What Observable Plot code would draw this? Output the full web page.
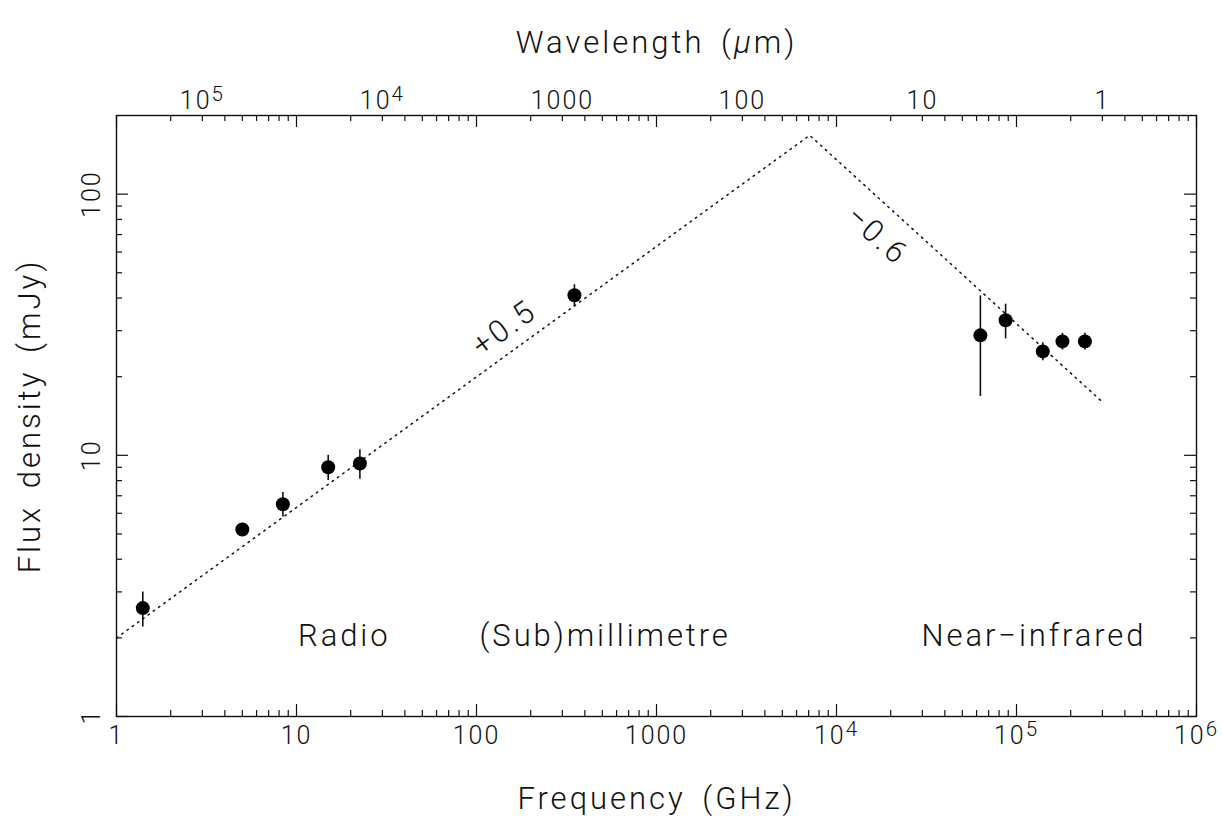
<!DOCTYPE html>
<html>
<head>
<meta charset="utf-8">
<script src="https://cdn.jsdelivr.net/npm/d3@7"></script>
<script src="https://cdn.jsdelivr.net/npm/@observablehq/plot@0.6"></script>
<style>
  html, body { margin: 0; padding: 0; background: #fff; }
  #chart svg { display: block; }
  .ls-tick text { letter-spacing: 2px; }
  .ls-title text { letter-spacing: 3px; word-spacing: 6px; }
  .ls-label text { letter-spacing: 2.9px; word-spacing: 4px; }
</style>
</head>
<body>
<div id="chart"></div>
<script>
// ---- Data ----
const freqGHz   = [1.4, 5.0, 8.4, 15, 22.5, 350, 6.3e4, 8.7e4, 1.4e5, 1.8e5, 2.4e5];
const fluxMJy   = [2.6, 5.2, 6.5, 9.0, 9.3, 41, 28.8, 32.9, 25.0, 27.3, 27.3];
const fluxErr   = [0.4, 0.25, 0.7, 1.0, 1.2, 4, 12, 5, 2, 2, 2];

// broken power-law (dotted) vertices
const modelFreq = [1, 7100, 3e5];
const modelFlux = [2.0, 168, 16];

// tick values / labels
const xMajor = [1, 10, 100, 1000, 1e4, 1e5, 1e6];
const xMajorLabels = ["1", "10", "100", "1000", "10^4", "10^5", "10^6"];
const yMajor = [1, 10, 100];
const yMajorLabels = ["1", "10", "100"];
const lambdaUm = [1e5, 1e4, 1000, 100, 10, 1];
const lambdaLabels = ["10^5", "10^4", "1000", "100", "10", "1"];
const C_UM_GHZ = 3e5; // lambda(um) = 3e5 / nu(GHz)

// annotations
const regionText = ["Radio", "(Sub)millimetre", "Near\u2212infrared"];
const regionFreq = [10.2, 104, 2.97e4];
const regionFlux = [2.04, 2.04, 2.04];

const slopeText = ["+0.5", "\u22120.6"];
const slopeFreq = [143, 1.68e4];
const slopeFlux = [30.7, 69.3];
const slopeAngle = [-36, 42];

// ---- derived tables ----
const points = freqGHz.map((nu, i) => ({nu, flux: fluxMJy[i], err: fluxErr[i]}));
const model = modelFreq.map((nu, i) => ({nu, flux: modelFlux[i]}));
const xMinor = [];
for (let k = 0; k < 6; k++) for (let m = 2; m <= 9; m++) xMinor.push(m * 10 ** k);
const yMinor = [];
for (let k = 0; k < 2; k++) for (let m = 2; m <= 9; m++) yMinor.push(m * 10 ** k);

const W = 1223, H = 836;
const mL = 116, mR = 27, mT = 115, mB = 120;
const fw = W - mL - mR, fh = H - mT - mB;
const FONT = "Roboto, Lato, 'Liberation Sans', sans-serif";
const INK = "#111";

const plot = Plot.plot({
  width: W, height: H,
  marginLeft: mL, marginRight: mR, marginTop: mT, marginBottom: mB,
  style: {fontFamily: FONT, fontWeight: 300, background: "#fff", color: INK},
  x: {type: "log", domain: [1, 1e6], axis: null},
  y: {type: "log", domain: [1, 200], axis: null},
  marks: [
    // ticks, all inward, bottom + top (mirrored) and left + right
    Plot.tickX(xMajor, {x: d => d, insetTop: fh - 12, stroke: INK, strokeWidth: 1.2}),
    Plot.tickX(xMinor, {x: d => d, insetTop: fh - 6, stroke: INK, strokeWidth: 1.2}),
    Plot.tickX(xMajor, {x: d => d, insetBottom: fh - 12, stroke: INK, strokeWidth: 1.2}),
    Plot.tickX(xMinor, {x: d => d, insetBottom: fh - 6, stroke: INK, strokeWidth: 1.2}),
    Plot.tickY(yMajor, {y: d => d, insetRight: fw - 12, stroke: INK, strokeWidth: 1.2}),
    Plot.tickY(yMinor, {y: d => d, insetRight: fw - 6, stroke: INK, strokeWidth: 1.2}),
    Plot.tickY(yMajor, {y: d => d, insetLeft: fw - 12, stroke: INK, strokeWidth: 1.2}),
    Plot.tickY(yMinor, {y: d => d, insetLeft: fw - 6, stroke: INK, strokeWidth: 1.2}),
    Plot.frame({stroke: INK, strokeWidth: 1.4}),

    // tick labels
    Plot.text(xMajor, {x: d => d, text: (d, i) => xMajorLabels[i], frameAnchor: "bottom", dy: 27, textAnchor: "middle", fontSize: 25, fill: INK, className: "ls-tick"}),
    Plot.text(yMajor, {y: d => d, text: (d, i) => yMajorLabels[i], frameAnchor: "left", dx: -25, rotate: -90, textAnchor: "middle", fontSize: 25, fill: INK, className: "ls-tick"}),
    Plot.text(lambdaUm, {x: l => C_UM_GHZ / l, text: (d, i) => lambdaLabels[i], frameAnchor: "top", dy: -24, textAnchor: "middle", fontSize: 25, fill: INK, className: "ls-tick"}),

    // axis titles
    Plot.text(["Frequency (GHz)"], {frameAnchor: "bottom", dy: 92, textAnchor: "middle", fontSize: 31, fill: INK, className: "ls-title"}),
    Plot.text(["Wavelength (\u03bcm)"], {frameAnchor: "top", dy: -85, textAnchor: "middle", fontSize: 31, fill: INK, className: "ls-title"}),
    Plot.text(["Flux density (mJy)"], {frameAnchor: "left", dx: -86, rotate: -90, textAnchor: "middle", fontSize: 31, fill: INK, className: "ls-title"}),

    // model line
    Plot.line(model, {x: "nu", y: "flux", stroke: INK, strokeWidth: 1.5, strokeDasharray: "1.5,5"}),

    // error bars and points
    Plot.ruleX(points, {x: "nu", y1: d => d.flux - d.err, y2: d => d.flux + d.err, stroke: INK, strokeWidth: 1.6}),
    Plot.dot(points, {x: "nu", y: "flux", r: 7, fill: "#000", stroke: "none"}),

    // annotations
    Plot.text(regionText, {x: (d, i) => regionFreq[i], y: (d, i) => regionFlux[i], text: d => d, textAnchor: "start", fontSize: 31, fill: INK, className: "ls-label"}),
    Plot.text(slopeText, {x: (d, i) => slopeFreq[i], y: (d, i) => slopeFlux[i], text: d => d, rotate: (d, i) => slopeAngle[i], textAnchor: "middle", fontSize: 31, fill: INK, className: "ls-label"})
  ]
});

// superscripts and italic mu as real text tspans
const SVGNS = "http://www.w3.org/2000/svg";
plot.querySelectorAll("text").forEach(t => {
  const s = t.textContent;
  const m = /^10\^(\d)$/.exec(s);
  if (m) {
    t.textContent = "10";
    const sup = document.createElementNS(SVGNS, "tspan");
    sup.setAttribute("dy", "-0.38em");
    sup.setAttribute("font-size", "0.82em");
    sup.textContent = m[1];
    t.appendChild(sup);
  } else if (s === "Wavelength (\u03bcm)") {
    t.textContent = "Wavelength (";
    const mu = document.createElementNS(SVGNS, "tspan");
    mu.setAttribute("font-style", "italic");
    mu.textContent = "\u03bc";
    t.appendChild(mu);
    t.appendChild(document.createTextNode("m)"));
  }
});

document.getElementById("chart").appendChild(plot);
</script>
</body>
</html>
